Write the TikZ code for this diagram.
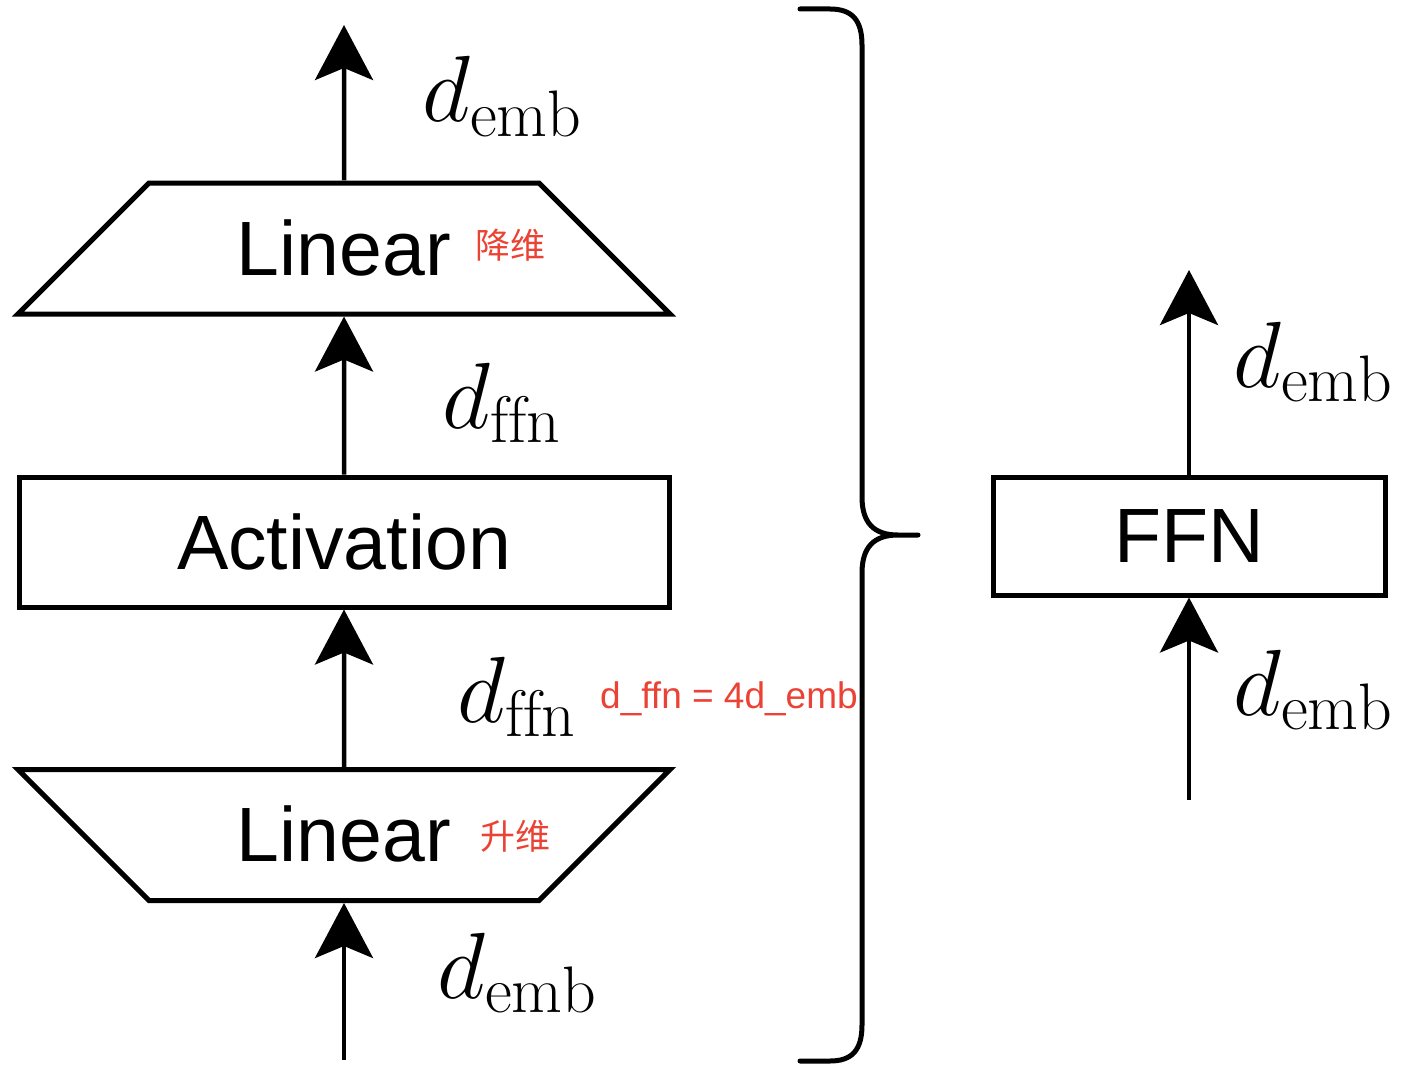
\RequirePackage{fix-cm}
\documentclass[tikz,border=0pt]{standalone}
\usepackage{fontspec}
\newfontfamily\arialfont{Liberation Sans}
\newfontfamily\cjk{Noto Sans CJK SC}
\usepackage{tikz}
\usetikzlibrary{arrows.meta, positioning, shapes.geometric}
\definecolor{NoteRed}{HTML}{EA4335}
\tikzset{
  >={Stealth[length=55pt,width=58pt,inset=12pt]},
  % Blocchi della rete
  block/.style={draw,line width=5pt,rectangle,inner sep=0,font=\arialfont\fontsize{77}{77}\selectfont},
  layer down/.style={block,trapezium,trapezium angle=45,trapezium stretches body,
    text height=65.5pt,text depth=12.5pt,inner ysep=26.5pt,minimum width=652pt},
  layer up/.style={layer down,shape border rotate=180},
  % Connessioni ed etichette
  flow/.style={->,line width=4.5pt},
  dim/.style={inner sep=0,anchor=base west,font=\fontsize{94}{94}\selectfont},
  note/.style={inner sep=0,text=NoteRed,font=\arialfont\fontsize{37}{37}\selectfont},
  note cjk/.style={note,font=\cjk\fontsize{35}{35}\selectfont},
  brace/.style={line width=5pt,line cap=round}
}

\begin{document}
\begin{tikzpicture}[x=1pt,y=-1pt]
    \useasboundingbox (0,0) rectangle (1418,1070);
    % FFN espansa
    \node[layer up] (linup) at (344,835) {Linear};
    \node[block,minimum width=650pt,minimum height=130pt] (act) at (344,542) {Activation};
    \node[layer down] (lindown) at (344,248.5) {Linear};
    \coordinate (in) at (344,1060);
    \coordinate (out) at (344,25);
    \draw[flow] (in) -- (linup);
    \draw[flow] (linup) -- (act);
    \draw[flow] (act) -- (lindown);
    \draw[flow] (lindown) -- (out);
    \node[dim] (din) at (437,998) {$d_{\mathrm{emb}}$};
    \node[dim] (dlow) at (457,722) {$d_{\mathrm{ffn}}$};
    \node[dim] (dmid) at (442,428) {$d_{\mathrm{ffn}}$};
    \node[dim] (dout) at (422,122) {$d_{\mathrm{emb}}$};
    \node[note cjk,anchor=west] (up) at (480,836) {升维};
    \node[note cjk,anchor=west] (down) at (475,245) {降维};
    \node[note,anchor=base west] (ratio) at (600,708) {d\_ffn = 4d\_emb};
    % parentesi graffa
    \draw[brace] (800,9) -- (830,9) .. controls (852,9) and (862,20) .. (862,45)
      -- (862,497) .. controls (862,523) and (874,535) .. (898,535) -- (918,535)
      (898,535) .. controls (874,535) and (862,547) .. (862,573)
      -- (862,1025) .. controls (862,1050) and (852,1061) .. (830,1061) -- (800,1061);
    % blocco compatto
    \node[block,minimum width=392pt,minimum height=118pt] (ffn) at (1189,536) {FFN};
    \coordinate (fin) at (1189,800);
    \coordinate (fout) at (1189,270);
    \draw[flow] (fin) -- (ffn);
    \draw[flow] (ffn) -- (fout);
    \node[dim] (dfin) at (1233,715) {$d_{\mathrm{emb}}$};
    \node[dim] (dfout) at (1233,387) {$d_{\mathrm{emb}}$};
  \end{tikzpicture}
\end{document}
